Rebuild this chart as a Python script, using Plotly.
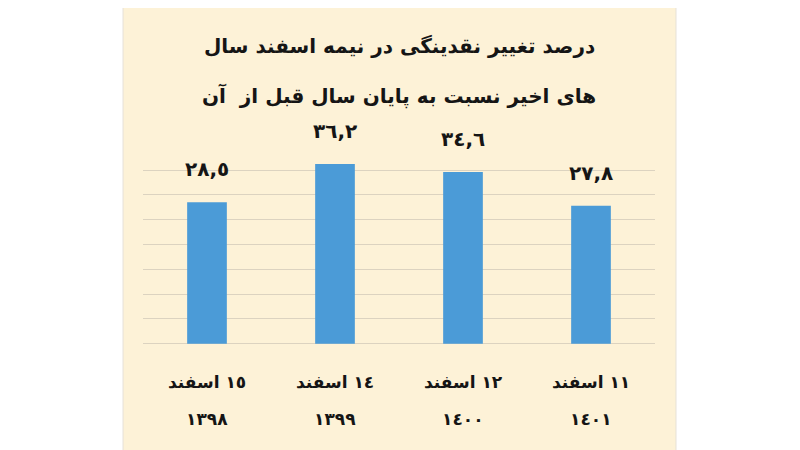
import plotly.graph_objects as go

# data (left to right)
years = ["۱۳۹۸", "۱۳۹۹", "۱۴۰۰", "۱۴۰۱"]
years_text = ["١٣٩٨", "١٣٩٩", "١٤٠٠", "١٤٠١"]
days_text = ["١٥ اسفند", "١٤ اسفند", "١٢ اسفند", "١١ اسفند"]
change_pct = [28.5, 36.2, 34.6, 27.8]
value_text = ["٢٨,٥", "٣٦,٢", "٣٤,٦", "٢٧,٨"]

title_lines = ["درصد تغییر نقدینگی در نیمه اسفند سال",
               "های اخیر نسبت به پایان سال قبل از  آن"]

FONT = "DejaVu Sans"
INK = "#151515"
BEIGE = "#FDF2D7"
BLUE = "#4B9BD7"
GRID = "#DCD3C0"

fig = go.Figure()
fig.add_trace(go.Bar(x=years, y=change_pct, marker_color=BLUE,
                     marker_line_width=0, hoverinfo="skip"))

anns = []
# value labels above bars
for yr, v, t in zip(years, change_pct, value_text):
    anns.append(dict(x=yr, y=v, text="<b>%s</b>" % t, showarrow=False,
                     xref="x", yref="y", yanchor="bottom", yshift=19,
                     font=dict(family=FONT, size=20, color=INK)))
# two-row category labels
for yr, d, y2 in zip(years, days_text, years_text):
    anns.append(dict(x=yr, y=0, text="<b>%s</b>" % d, showarrow=False,
                     xref="x", yref="paper", yanchor="middle", yshift=-38,
                     font=dict(family=FONT, size=17, color=INK)))
    anns.append(dict(x=yr, y=0, text="<b>%s</b>" % y2, showarrow=False,
                     xref="x", yref="paper", yanchor="middle", yshift=-75,
                     font=dict(family=FONT, size=17, color=INK)))
# title, two lines
for i, line in enumerate(title_lines):
    anns.append(dict(x=0.5, y=1, text="<b>%s</b>" % line, showarrow=False,
                     xref="paper", yref="paper", yanchor="middle",
                     yshift=[99, 49][i],
                     font=dict(family=FONT, size=20, color=INK)))

# the page body adds 8px, so margins are pulled in by that much
fig.update_layout(
    width=800, height=450,
    margin=dict(l=135, r=153, t=137, b=114),
    paper_bgcolor="white",
    plot_bgcolor="rgba(0,0,0,0)",
    bargap=0.69,
    showlegend=False,
    annotations=anns,
    shapes=[dict(type="rect", xref="paper", yref="paper",
                 x0=-0.039, x1=1.041, y0=-0.65, y1=1.8,
                 fillcolor=BEIGE, line=dict(color="#E6E1D8", width=1),
                 layer="below")],
)
fig.update_xaxes(showticklabels=False, showgrid=False, zeroline=False,
                 showline=False, ticks="")
fig.update_yaxes(range=[-0.05, 40.05], tick0=0, dtick=5, showticklabels=False,
                 showgrid=True, gridcolor=GRID, gridwidth=1,
                 zeroline=True, zerolinecolor=GRID, zerolinewidth=1,
                 showline=False, ticks="")

fig.write_html("out.html")
